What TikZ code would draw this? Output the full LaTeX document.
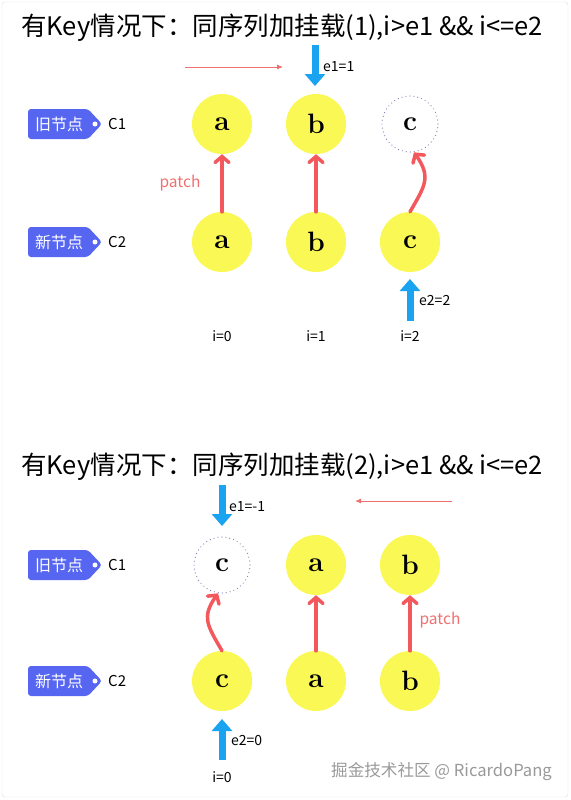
\documentclass[tikz,border=0pt]{standalone}
\usepackage{fontspec}
\newfontfamily\cjk{Noto Sans CJK SC}
\usepackage{tikz}
\usetikzlibrary{arrows.meta}
\definecolor{nodeYellow}{RGB}{250,248,85}
\definecolor{patchRed}{RGB}{242,88,92}
\definecolor{lightRed}{RGB}{240,112,112}
\definecolor{ptrBlue}{RGB}{26,163,240}
\definecolor{tagBlue}{RGB}{86,102,240}
\definecolor{ghostLine}{RGB}{125,125,175}

\begin{document}
\begin{tikzpicture}[x=1pt, y=-1pt, font=\cjk]
        \tikzstyle{nodeStyle} = [circle, fill=nodeYellow, minimum size=60pt, inner sep=0pt,
            font=\rmfamily\bfseries\fontsize{28}{28}\selectfont]
        \tikzstyle{ghostStyle} = [nodeStyle, fill=none, draw=ghostLine, line width=1.2pt,
            line cap=round, dash pattern=on 0pt off 4pt, minimum size=56pt]
        \tikzstyle{patchEdge} = [draw=patchRed, line width=3.5pt, line cap=round,
            -{Straight Barb[length=6pt, width=14pt, line cap=round]}]
        \tikzstyle{moveEdge} = [draw=lightRed, line width=0.9pt, -{Latex[length=6pt, width=5pt]}]
        \tikzstyle{ptrEdge} = [draw=ptrBlue, line width=7pt, -{Triangle[length=12pt, width=20pt]}]
        \tikzstyle{titleText} = [anchor=west, inner sep=0pt, font=\cjk\fontsize{25.5}{25.5}\selectfont]
        \tikzstyle{smallText} = [inner sep=0pt, font=\cjk\fontsize{14}{14}\selectfont]
        \tikzstyle{patchText} = [inner sep=0pt, text=lightRed, font=\cjk\fontsize{15.5}{15.5}\selectfont]
        \tikzstyle{tagText} = [inner sep=0pt, text=white, font=\cjk\fontsize{16}{16}\selectfont]
        \useasboundingbox (0,0) rectangle (570,800);
        \draw[gray!25, rounded corners=3pt] (2,2) rectangle (568,797);
        % tags
        \foreach \n/\y/\txt/\lbl in {t1/124/旧节点/C1, t2/242/新节点/C2,
                                     t3/565/旧节点/C1, t4/681/新节点/C2} {
            \fill[tagBlue, rounded corners=3pt] (28,\y-15) -- (88,\y-15) -- (102,\y)
                -- (88,\y+15) -- (28,\y+15) -- cycle;
            \fill[white] (95,\y) circle (2.5pt);
            \node[tagText] (\n) at (59,\y) {\txt};
            \node[smallText, anchor=west, font=\cjk\fontsize{15}{15}\selectfont] (lbl\n) at (108,\y) {\lbl};
        }
        % (1)
        \node[titleText] (title1) at (21,28) {有Key情况下：同序列加挂载(1),i>e1 \&\& i<=e2};
        \node[nodeStyle] (1) at (222,124) {a};
        \node[nodeStyle] (2) at (316,124) {b};
        \node[ghostStyle] (3) at (410,124) {c};
        \node[nodeStyle] (4) at (222,242) {a};
        \node[nodeStyle] (5) at (316,242) {b};
        \node[nodeStyle] (6) at (410,242) {c};
        \node[patchText] (p1) at (180,183) {patch};
        \coordinate (m1a) at (185,67);
        \coordinate (m1b) at (283,67);
        \coordinate (e1a) at (315,45);
        \coordinate (e1b) at (315,86);
        \coordinate (e2a) at (410,321);
        \coordinate (e2b) at (410,279);
        \node[smallText, anchor=west] (e1) at (323,67) {e1=1};
        \node[smallText, anchor=west] (e2) at (419,301) {e2=2};
        \foreach \x/\i in {222/0, 316/1, 410/2}
            \node[smallText] (i\i) at (\x,336) {i=\i};
        % (2)
        \node[titleText] (title2) at (21,467) {有Key情况下：同序列加挂载(2),i>e1 \&\& i<=e2};
        \node[ghostStyle] (7) at (222,565) {c};
        \node[nodeStyle] (8) at (316,565) {a};
        \node[nodeStyle] (9) at (410,565) {b};
        \node[nodeStyle] (10) at (222,681) {c};
        \node[nodeStyle] (11) at (316,681) {a};
        \node[nodeStyle] (12) at (410,681) {b};
        \node[patchText] (p2) at (440,620) {patch};
        \coordinate (m2a) at (452,501);
        \coordinate (m2b) at (355,501);
        \coordinate (e3a) at (222,485);
        \coordinate (e3b) at (222,526);
        \coordinate (e4a) at (222,760);
        \coordinate (e4b) at (222,719);
        \node[smallText, anchor=west] (e3) at (229,507) {e1=-1};
        \node[smallText, anchor=west] (e4) at (231,740) {e2=0};
        \node[smallText] (j0) at (222,777) {i=0};
        \node[inner sep=0pt, anchor=east, text=gray!80, font=\cjk\fontsize{16.6}{16.6}\selectfont]
            (mark) at (552,772) {掘金技术社区 @ RicardoPang};
        % edges
        \foreach \from/\to in {4/1, 5/2, 11/8, 12/9}
            \draw[patchEdge] (\from) -- (\to);
        \draw[patchEdge] (6.north) to[out=60, in=-55, looseness=1.3] (3.-82);
        \draw[patchEdge] (10.north) to[out=120, in=-125, looseness=1.3] (7.-98);
        \foreach \from/\to in {m1a/m1b, m2a/m2b}
            \draw[moveEdge] (\from) -- (\to);
        \foreach \from/\to in {e1a/e1b, e2a/e2b, e3a/e3b, e4a/e4b}
            \draw[ptrEdge] (\from) -- (\to);
    \end{tikzpicture}
\end{document}
